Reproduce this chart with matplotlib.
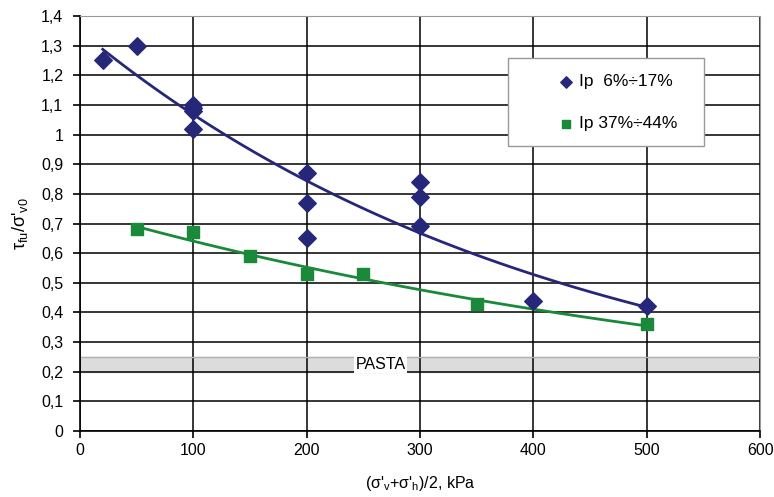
import matplotlib.pyplot as plt
import numpy as np
from matplotlib.patches import Rectangle

plt.rcParams['font.family'] = ['Liberation Sans', 'DejaVu Sans']
plt.rcParams['mathtext.fontset'] = 'custom'
plt.rcParams['mathtext.rm'] = 'Liberation Sans'
plt.rcParams['mathtext.it'] = 'Liberation Sans'

# Ip 6%-17%
x_low = np.array([20, 50, 100, 100, 100, 100, 200, 200, 200, 300, 300, 300, 400, 500])
y_low = np.array([1.25, 1.30, 1.10, 1.09, 1.08, 1.02, 0.87, 0.77, 0.65, 0.84, 0.79, 0.69, 0.44, 0.42])

# Ip 37%-44%
x_high = np.array([50, 100, 150, 200, 250, 350, 500])
y_high = np.array([0.68, 0.67, 0.59, 0.53, 0.53, 0.43, 0.36])

yticks = [0, 0.1, 0.2, 0.3, 0.4, 0.5, 0.6, 0.7, 0.8, 0.9, 1.0, 1.1, 1.2, 1.3, 1.4]
ytick_labels = ['0', '0,1', '0,2', '0,3', '0,4', '0,5', '0,6', '0,7', '0,8', '0,9',
                '1', '1,1', '1,2', '1,3', '1,4']

blue = '#27277a'
green = '#1a8a3a'

fig = plt.figure(figsize=(7.74, 4.97), dpi=100)
ax = fig.add_axes([0.1034, 0.1328, 0.8786, 0.835])

# PASTA band
ax.axhspan(0.2, 0.25, color='#dcdcdc', zorder=0.5)
ax.axhline(0.25, color='#b0b0b0', lw=1, zorder=0.6)
ax.text(265, 0.225, 'PASTA', ha='center', va='center', fontsize=11.5,
        bbox=dict(facecolor='white', edgecolor='none', pad=1), zorder=1)

# exponential trend lines (Excel-like)
def exp_trend(x, y, color):
    b, a = np.polyfit(x, np.log(y), 1)
    xs = np.linspace(x.min(), x.max(), 100)
    ax.plot(xs, np.exp(a + b * xs), color=color, lw=2, zorder=3)

exp_trend(x_low, y_low, blue)
exp_trend(x_high, y_high, green)

ax.scatter(x_low, y_low, marker='D', s=80, color=blue, zorder=4, label='Ip  6%÷17%')
ax.scatter(x_high, y_high, marker='s', s=65, color=green, zorder=4, label='Ip 37%÷44%')

ax.set_xlim(0, 600)
ax.set_ylim(0, 1.4)
ax.set_xticks(range(0, 601, 100))
ax.set_yticks(yticks)
ax.set_yticklabels(ytick_labels)
ax.grid(True, color='black', lw=1.1, zorder=0)
ax.set_axisbelow(True)
for s in ['top', 'right']:
    ax.spines[s].set_color('#999999')
for s in ['left', 'bottom']:
    ax.spines[s].set_color('black')
    ax.spines[s].set_linewidth(1.2)
ax.tick_params(labelsize=11.5, direction='out', length=5, width=1.2)
ax.tick_params(axis='y', pad=7)

ax.set_xlabel(r"($\sigma$'$_v$+$\sigma$'$_h$)/2, kPa", fontsize=11.5, labelpad=12)
ax.set_ylabel(r"$\tau_{fu}$/$\sigma$'$_{v0}$", fontsize=13, labelpad=8)

# legend box
box = Rectangle((377.6, 0.961), 173, 0.297, facecolor='white', edgecolor='#999999',
                lw=1, zorder=5)
ax.add_patch(box)
leg = ax.legend(loc='center left', bbox_to_anchor=(410, 1.108), bbox_transform=ax.transData,
                fontsize=12.5, frameon=False, handletextpad=0.0, labelspacing=1.55,
                borderpad=0, markerscale=0.65, handlelength=1.5)
leg.set_zorder(6)

fig.savefig('out.png', dpi=100)
